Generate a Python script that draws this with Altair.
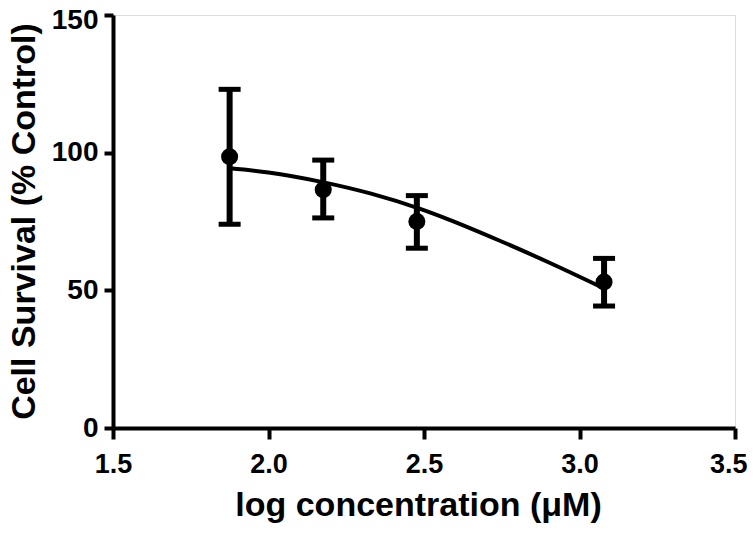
import altair as alt
import pandas as pd

log_conc = [1.875, 2.176, 2.477, 3.079]
survival = [98.5, 86.5, 75.0, 53.0]
err_lo = [74.0, 76.3, 65.3, 44.3]
err_hi = [123.0, 97.3, 84.4, 61.6]

# Fitted curve
curve_x = [1.875, 2.0, 2.17, 2.33, 2.49, 2.58, 2.74, 2.90, 3.079]
curve_y = [94.3, 92.8, 89.4, 85.1, 79.5, 75.7, 68.2, 60.2, 50.7]

x_ticks = [1.5, 2.0, 2.5, 3.0, 3.5]
y_ticks = [0, 50, 100, 150]

pts = pd.DataFrame({"x": log_conc, "y": survival, "lo": err_lo, "hi": err_hi})
cur = pd.DataFrame({"x": curve_x, "y": curve_y})

FONT = "Liberation Sans"

xs = alt.Scale(domain=[1.5, 3.5], nice=False, zero=False)
ys = alt.Scale(domain=[0, 150], nice=False)

xax = alt.Axis(
    values=x_ticks, format=".1f", title="log concentration (μM)",
    tickSize=11, labelPadding=12, labelFontSize=27,
    labelAlign={"condition": {"test": "datum.value == 3.5", "value": "right"}, "value": "center"},
    labelOffset={"condition": {"test": "datum.value == 3.5", "value": 12}, "value": 0},
    titleX=305, titleY=87, titleBaseline="alphabetic", titleAlign="center",
)
yax = alt.Axis(
    values=y_ticks, format="d", title="Cell Survival (% Control)",
    tickSize=9, labelPadding=6, labelFontSize=28,
    labelOffset={"condition": {"test": "datum.value == 150", "value": 5}, "value": 0},
    titleX=-79, titleY=206, titleBaseline="alphabetic", titleAlign="center", titleAngle=270,
)

line = alt.Chart(cur).mark_line(color="black", strokeWidth=4, interpolate="monotone").encode(
    x=alt.X("x:Q", scale=xs, axis=xax),
    y=alt.Y("y:Q", scale=ys, axis=yax),
)
bars = alt.Chart(pts).mark_rule(color="black", strokeWidth=6).encode(
    x=alt.X("x:Q", scale=xs), y=alt.Y("lo:Q", scale=ys), y2="hi:Q"
)
cap_lo = alt.Chart(pts).mark_tick(color="black", orient="horizontal", size=22,
                                  thickness=5, opacity=1).encode(
    x=alt.X("x:Q", scale=xs), y=alt.Y("lo:Q", scale=ys)
)
cap_hi = alt.Chart(pts).mark_tick(color="black", orient="horizontal", size=22,
                                  thickness=5, opacity=1).encode(
    x=alt.X("x:Q", scale=xs), y=alt.Y("hi:Q", scale=ys)
)
dots = alt.Chart(pts).mark_point(filled=True, color="black", shape="circle",
                                 size=290, opacity=1).encode(
    x=alt.X("x:Q", scale=xs), y=alt.Y("y:Q", scale=ys)
)

chart = alt.layer(line, bars, cap_lo, cap_hi, dots).properties(
    width=622, height=413,
    autosize=alt.AutoSizeParams(type="none"),
    padding={"left": 105, "top": 7, "right": 12, "bottom": 98},
).configure_view(stroke=None).configure(background="white").configure_axis(
    grid=False, domainColor="black", domainWidth=4, tickColor="black",
    tickWidth=4, labelFont=FONT, labelFontWeight="bold",
    labelColor="black", titleFont=FONT, titleFontWeight="bold",
    titleFontSize=34, titleColor="black", labelFlush=False, labelOverlap=False,
)

chart.save("out.html", embed_options={"renderer": "svg", "actions": False})
